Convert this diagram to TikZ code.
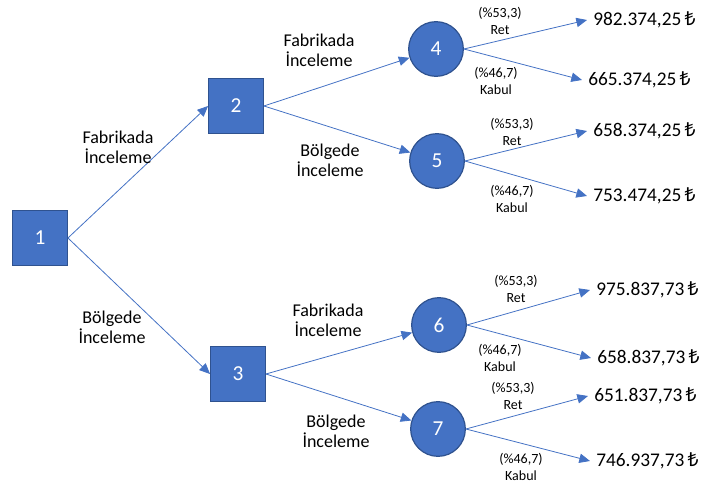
\documentclass[tikz,border=0pt]{standalone}
\usepackage{fontspec}
\setmainfont{Carlito}
\newfontfamily\lirafont{Noto Sans}
\newcommand{\TL}{{\lirafont ₺}}
\usepackage{tikz}
\usetikzlibrary{arrows.meta}
\definecolor{boxblue}{HTML}{4472C4}
\definecolor{boxedge}{HTML}{2F528F}

\begin{document}
\begin{tikzpicture}[x=0.75pt,y=-0.75pt,
  decision/.style={draw=boxedge, line width=0.9pt, fill=boxblue, minimum size=41pt,
                   inner sep=0pt, text=white, font=\fontsize{16}{18}\selectfont},
  chance/.style={decision, circle},
  branch/.style={draw=boxblue, line width=0.6pt, -{Triangle[length=8pt,width=7pt]}},
  edgelab/.style={align=center, font=\fontsize{13.5}{15}\selectfont},
  problab/.style={align=center, font=\fontsize{10.5}{12.75}\selectfont},
  payoff/.style={anchor=west, inner xsep=4.5pt, font=\fontsize{14.5}{18}\selectfont}]

  \useasboundingbox (0,0) rectangle (703,484);

     % -------------------------
     % Decision and chance nodes
     % -------------------------
      \node[decision] (n1) at (40,238) {1};
      \node[decision] (n2) at (236,106) {2};
      \node[decision] (n3) at (238,374) {3};
      \node[chance] (n4) at (436,49) {4};
      \node[chance] (n5) at (437,161) {5};
      \node[chance] (n6) at (439,325) {6};
      \node[chance] (n7) at (438,429) {7};

     % -------------------------
     % Payoffs
     % -------------------------
      \node[payoff] (p1) at (587,20) {982.374,25\,\TL};
      \node[payoff] (p2) at (582,80) {665.374,25\,\TL};
      \node[payoff] (p3) at (587,131) {658.374,25\,\TL};
      \node[payoff] (p4) at (587,196) {753.474,25\,\TL};
      \node[payoff] (p5) at (590,290) {975.837,73\,\TL};
      \node[payoff] (p6) at (591,358) {658.837,73\,\TL};
      \node[payoff] (p7) at (588,396) {651.837,73\,\TL};
      \node[payoff] (p8) at (590,461) {746.937,73\,\TL};

      % Branches
      \draw[branch] (n1.east) -- (n2.west);
      \draw[branch] (n1.east) -- (n3.west);
      \draw[branch] (n2.east) -- (n4);
      \draw[branch] (n2.east) -- (n5);
      \draw[branch] (n3.east) -- (n6);
      \draw[branch] (n3.east) -- (n7);
      \draw[branch] (n4.east) -- (p1.west);
      \draw[branch] (n4.east) -- (p2.west);
      \draw[branch] (n5.east) -- (p3.west);
      \draw[branch] (n5.east) -- (p4.west);
      \draw[branch] (n6.east) -- (p5.west);
      \draw[branch] (n6.east) -- (p6.west);
      \draw[branch] (n7.east) -- (p7.west);
      \draw[branch] (n7.east) -- (p8.west);

      % Branch labels
      \node[edgelab] (l12) at (118,147) {Fabrikada\\İnceleme};
      \node[edgelab] (l13) at (112,327) {Bölgede\\İnceleme};
      \node[edgelab] (l24) at (319,50) {Fabrikada\\İnceleme};
      \node[edgelab] (l25) at (330,160) {Bölgede\\İnceleme};
      \node[edgelab] (l36) at (328,320) {Fabrikada\\İnceleme};
      \node[edgelab] (l37) at (336,431) {Bölgede\\İnceleme};

      % Probabilities
      \node[problab] (r4) at (500,21) {(\%53,3)\\Ret};
      \node[problab] (k4) at (496,81) {(\%46,7)\\Kabul};
      \node[problab] (r5) at (512,132) {(\%53,3)\\Ret};
      \node[problab] (k5) at (512,199) {(\%46,7)\\Kabul};
      \node[problab] (r6) at (516,289) {(\%53,3)\\Ret};
      \node[problab] (k6) at (500,358) {(\%46,7)\\Kabul};
      \node[problab] (r7) at (513,396) {(\%53,3)\\Ret};
      \node[problab] (k7) at (521,467) {(\%46,7)\\Kabul};
\end{tikzpicture}
\end{document}
